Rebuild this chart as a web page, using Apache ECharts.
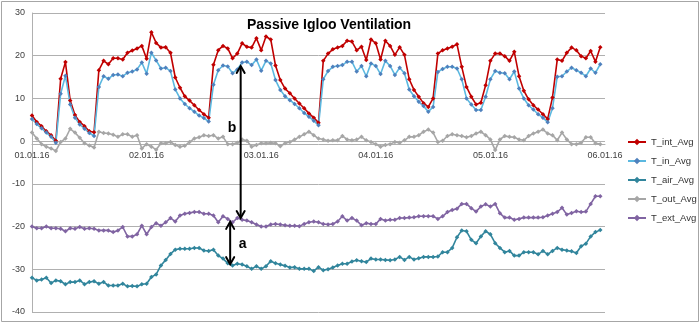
<!DOCTYPE html>
<html><head><meta charset="utf-8">
<script src="https://cdn.jsdelivr.net/npm/echarts@6/dist/echarts.min.js"></script>
<style>html,body{margin:0;padding:0;background:#fff}#c{width:700px;height:323px}</style>
</head><body><div id="c"></div>
<script>
// Tick labels on the time axis (one per day, 24 hourly samples per day)
const dateLabels = ['01.01.16','02.01.16','03.01.16','04.01.16','05.01.16','06.01.16'];
const seriesNames = ['T_int_Avg','T_in_Avg','T_air_Avg','T_out_Avg','T_ext_Avg'];

const T_int = [6.0,4.5,3.5,2.3,1.4,0.1,14.6,18.5,9.5,6.1,4.5,3.5,2.3,2.1,16.6,18.8,18.0,19.4,19.4,19.1,20.7,21.2,21.7,22.3,
19.3,25.5,23.0,21.9,22.0,20.7,14.9,12.5,10.5,9.5,8.4,7.3,6.3,5.5,17.9,21.3,22.3,21.7,19.4,20.5,22.9,22.1,21.9,24.1,
21.3,24.5,23.8,17.7,14.3,12.3,11.2,10.0,8.8,7.7,6.5,5.5,4.3,18.8,20.5,21.5,21.9,22.3,23.5,23.3,21.3,22.1,19.0,23.8,
22.9,19.1,23.5,22.3,20.2,22.0,20.2,14.5,12.0,10.4,8.9,8.0,10.0,20.5,21.3,21.7,22.1,22.7,17.4,12.7,10.4,8.6,9.0,13.1,
18.8,20.5,20.5,19.9,18.8,20.9,15.2,11.8,9.8,8.4,7.4,6.3,5.2,10.2,19.1,18.8,20.7,21.9,21.3,19.9,19.4,21.1,18.6,22.0];

const T_in = [5.2,4.0,3.0,2.0,1.0,-0.4,11.1,15.3,8.6,5.5,3.9,2.9,1.9,1.2,12.7,15.2,14.6,15.5,15.6,15.2,16.0,16.3,16.8,18.4,
15.8,20.7,18.9,17.0,17.2,16.4,12.1,10.0,8.7,7.7,6.9,6.0,5.4,4.6,13.2,16.6,17.7,17.5,15.9,16.8,18.4,18.6,17.8,19.1,
16.5,18.8,18.2,14.3,12.0,10.5,9.6,8.7,7.7,6.6,5.7,4.8,3.7,14.5,16.4,17.4,17.6,17.8,18.6,18.6,16.3,17.6,15.2,18.2,
17.6,15.7,18.8,17.6,15.5,17.2,15.9,12.1,10.5,9.2,8.2,6.9,8.0,16.2,16.9,17.4,17.4,17.0,14.5,10.0,8.6,7.3,7.3,10.4,
14.5,16.4,16.0,15.9,14.5,16.3,12.3,10.0,8.4,7.4,6.3,5.5,4.4,7.7,15.1,15.2,16.3,17.2,16.6,16.0,15.2,17.0,16.0,18.0];

const T_air = [-32.0,-32.6,-32.4,-32.0,-33.2,-32.6,-32.8,-33.5,-33.0,-33.0,-32.6,-33.5,-33.0,-32.8,-33.4,-33.0,-33.8,-33.8,-33.8,-33.4,-34.0,-33.9,-34.0,-33.5,
-33.4,-31.8,-31.2,-29.1,-27.8,-26.4,-25.4,-25.2,-25.2,-25.2,-25.0,-25.0,-25.6,-25.7,-25.4,-26.8,-27.5,-28.6,-29.1,-28.7,-28.9,-29.3,-29.9,-29.3,
-29.9,-29.3,-28.1,-28.6,-28.9,-29.2,-29.6,-29.5,-29.9,-29.9,-29.9,-30.4,-29.5,-30.2,-30.0,-29.6,-29.1,-28.7,-28.7,-28.2,-27.9,-28.1,-28.3,-27.5,
-27.7,-27.7,-27.8,-27.9,-27.7,-27.1,-27.8,-27.1,-27.7,-27.4,-27.1,-27.1,-27.1,-27.0,-26.0,-26.0,-25.0,-22.5,-20.9,-21.1,-23.1,-23.9,-22.3,-21.1,
-21.8,-23.9,-25.0,-26.0,-25.7,-26.8,-26.8,-26.0,-26.0,-26.0,-26.5,-25.7,-26.5,-25.7,-25.0,-25.4,-25.6,-25.8,-26.2,-24.6,-24.0,-22.3,-21.3,-20.8];

const T_out = [2.0,0.6,-0.7,-1.3,-1.7,-2.3,-0.2,0.6,2.9,2.0,0.8,-0.5,-1.0,-1.5,2.2,1.9,1.8,1.5,1.0,1.6,1.6,1.0,1.4,-1.7,
-0.7,-1.3,-2.0,-0.5,-0.5,-0.2,-0.9,-1.3,-1.1,-0.2,0.6,0.9,1.4,1.2,1.4,0.6,1.0,-0.7,-0.7,-0.4,0.4,0.1,-1.3,-0.9,
-0.5,-0.5,-0.4,-0.5,-1.2,-0.5,-0.2,0.4,1.0,1.6,2.2,1.4,0.6,0.4,0.1,0.2,0.2,1.2,0.4,0.2,0.4,1.0,0.2,-0.2,
-0.7,-1.3,-0.9,-0.7,-0.2,-0.4,0.2,1.0,1.0,1.4,2.2,2.7,2.0,-0.2,0.1,1.2,1.6,1.4,1.2,0.9,1.2,1.8,2.2,1.4,
0.4,-2.1,0.4,1.2,1.0,0.9,0.4,0.2,1.2,1.8,2.2,2.7,1.8,1.4,0.2,2.0,0.4,-0.7,-0.7,-0.4,0.9,0.9,-0.5,-0.7];

const T_ext = [-20.0,-20.4,-20.4,-20.0,-20.4,-20.4,-20.5,-21.1,-20.4,-20.5,-20.1,-20.5,-20.4,-20.5,-20.9,-20.9,-20.9,-21.3,-20.9,-20.1,-22.3,-22.3,-21.8,-19.8,
-21.8,-20.1,-19.2,-19.8,-19.0,-18.0,-18.8,-17.4,-17.0,-16.8,-16.6,-16.6,-17.0,-17.0,-17.4,-19.0,-17.6,-18.2,-19.0,-18.0,-18.4,-18.6,-19.0,-19.5,
-20.0,-20.0,-19.5,-19.4,-19.5,-19.7,-19.8,-19.8,-19.9,-19.4,-19.0,-18.8,-19.0,-19.4,-19.5,-19.4,-18.8,-17.6,-18.6,-18.0,-18.6,-19.7,-19.2,-19.4,
-19.4,-18.2,-18.6,-18.4,-18.4,-18.0,-18.0,-17.9,-17.8,-17.6,-17.6,-17.6,-17.6,-18.2,-17.6,-16.6,-16.1,-15.8,-14.7,-14.7,-15.7,-16.5,-15.3,-14.8,
-15.3,-14.7,-16.9,-17.9,-17.9,-18.4,-18.2,-17.9,-17.9,-17.9,-17.9,-17.8,-17.4,-17.0,-16.6,-15.6,-17.2,-16.8,-16.4,-16.6,-16.5,-14.7,-12.9,-12.9];

// Annotation arrows in data coordinates (hour index, temperature)
const arrows = [
  {x: 43.7, y1: 17.6, y2: -18.0},
  {x: 41.5, y1: -18.9, y2: -28.8}
];
const arrowLabels = [
  {x: 41.9, y: 3.0, text: 'b'},
  {x: 44.1, y: -24.1, text: 'a'}
];

const FONT = 'Liberation Sans';
const pairs = arr => arr.map((v, i) => [i, v]);

const styles = {
  T_int_Avg: {line: '#C00000', mark: '#C00000'},
  T_in_Avg:  {line: '#5BB8E0', mark: '#4F81BD'},
  T_air_Avg: {line: '#31859C', mark: '#31859C'},
  T_out_Avg: {line: '#A6A6A6', mark: '#A6A6A6'},
  T_ext_Avg: {line: '#8064A2', mark: '#8064A2'}
};
const dataByName = {T_int_Avg: T_int, T_in_Avg: T_in, T_air_Avg: T_air, T_out_Avg: T_out, T_ext_Avg: T_ext};

const chart = echarts.init(document.getElementById('c'), null, {renderer: 'canvas'});
const option = {
  animation: false,
  backgroundColor: '#fff',
  title: {
    text: 'Passive Igloo Ventilation', left: 247, top: 18, padding: 0,
    textStyle: {fontFamily: FONT, fontSize: 14, fontWeight: 'bold', color: '#000'}
  },
  legend: {
    orient: 'vertical', left: 627, top: 137, padding: 0,
    itemWidth: 18, itemHeight: 8, itemGap: 9,
    textStyle: {fontFamily: FONT, fontSize: 9.5, color: '#333', lineHeight: 8},
    data: seriesNames
  },
  grid: {left: 32, right: 95, top: 13, bottom: 11, containLabel: false},
  xAxis: {
    type: 'value', min: 0, max: 120, interval: 24, position: 'bottom', offset: 0,
    axisLine: {show: true, onZero: false, lineStyle: {color: '#b0b0b0', width: 1}},
    axisTick: {show: false},
    splitLine: {show: false},
    axisLabel: {
      margin: 7, fontFamily: FONT, fontSize: 9, color: '#404040',
      formatter: v => dateLabels[Math.round(v / 24)]
    }
  },
  yAxis: {
    type: 'value', min: -40, max: 30, interval: 10,
    axisLine: {show: true, onZero: false, lineStyle: {color: '#b0b0b0'}},
    axisTick: {show: false},
    splitLine: {show: true, lineStyle: {color: '#b0b0b0', width: 1}},
    axisLabel: {margin: 7, fontFamily: FONT, fontSize: 9, color: '#404040'}
  },
  series: seriesNames.map(n => ({
    name: n, type: 'line', data: pairs(dataByName[n]),
    symbol: 'diamond', symbolSize: 4.5, showSymbol: true,
    lineStyle: {color: styles[n].line, width: 1.6},
    itemStyle: {color: styles[n].mark}
  }))
};
chart.setOption(option);

// place the date axis (line + labels) on the zero line, as in the original
const yZero = chart.convertToPixel({yAxisIndex: 0}, 0);
const yMin = chart.convertToPixel({yAxisIndex: 0}, -40);
chart.setOption({xAxis: {offset: yZero - yMin}});

function drawAnnotations() {
  const els = [];
  els.push({type: 'rect', shape: {x: 1.5, y: 1.5, width: 697, height: 320},
            style: {fill: 'none', stroke: '#a6a6a6', lineWidth: 1}, silent: true});
  arrows.forEach(a => {
    const p1 = chart.convertToPixel({gridIndex: 0}, [a.x, a.y1]);
    const p2 = chart.convertToPixel({gridIndex: 0}, [a.x, a.y2]);
    const x = p1[0];
    const st = {stroke: '#000', lineWidth: 2, fill: 'none', lineCap: 'round', lineJoin: 'miter'};
    els.push({type: 'line', shape: {x1: x, y1: p1[1] + 1, x2: x, y2: p2[1] - 1}, style: st, z: 100});
    els.push({type: 'polyline', shape: {points: [[x - 4, p1[1] + 7], [x, p1[1]], [x + 4, p1[1] + 7]]}, style: st, z: 100});
    els.push({type: 'polyline', shape: {points: [[x - 4, p2[1] - 7], [x, p2[1]], [x + 4, p2[1] - 7]]}, style: st, z: 100});
  });
  arrowLabels.forEach(l => {
    const p = chart.convertToPixel({gridIndex: 0}, [l.x, l.y]);
    els.push({type: 'text', x: p[0], y: p[1], z: 100,
      style: {text: l.text, fill: '#000', font: 'bold 14px "Liberation Sans"', align: 'center', verticalAlign: 'middle'}});
  });
  chart.setOption({graphic: {elements: els}});
}
drawAnnotations();
</script>
</body></html>
